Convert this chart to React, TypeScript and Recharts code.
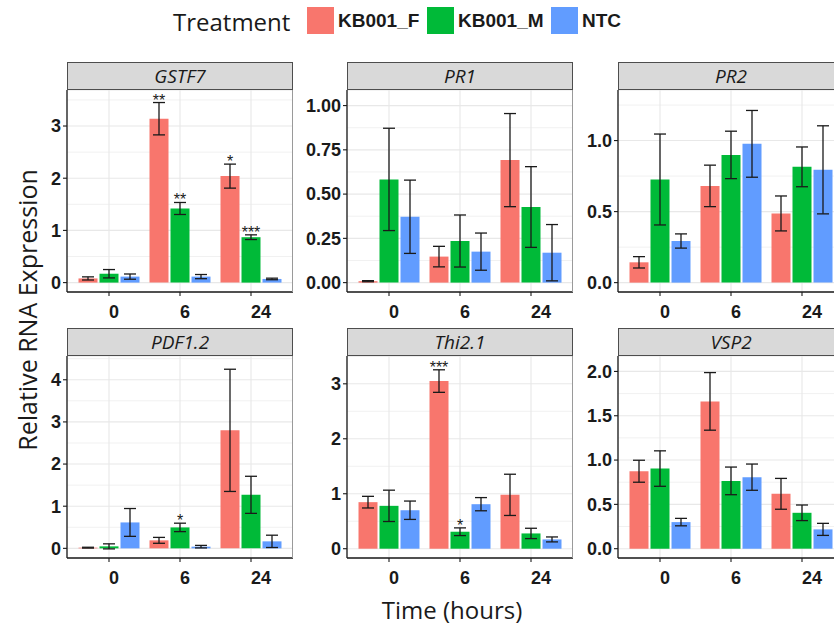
import React from 'react';
import { BarChart, Bar, XAxis, YAxis, CartesianGrid, ErrorBar, LabelList } from 'recharts';

// ---------- data ----------
const times = ['0', '6', '24'];
const seriesNames = ['KB001_F', 'KB001_M', 'NTC'];
const seriesColors = ['#F8766D', '#00BA38', '#619CFF'];

// each mean / err array: rows = series (F, M, NTC), columns = times (0, 6, 24)
const gstf7Mean = [[0.08, 3.14, 2.04], [0.17, 1.42, 0.87], [0.115, 0.115, 0.07]];
const gstf7Err = [[0.03, 0.31, 0.23], [0.08, 0.115, 0.045], [0.05, 0.04, 0.015]];
const gstf7Sig = [['', '**', '*'], ['', '**', '***'], ['', '', '']];
const gstf7Ticks = [0, 1, 2, 3];
const gstf7Minor = [0.5, 1.5, 2.5, 3.5];
const gstf7Domain = [-0.18, 3.69];

const pr1Mean = [[0.008, 0.147, 0.692], [0.583, 0.235, 0.427], [0.372, 0.175, 0.169]];
const pr1Err = [[0.003, 0.058, 0.263], [0.289, 0.147, 0.228], [0.207, 0.105, 0.159]];
const pr1Sig = [['', '', ''], ['', '', ''], ['', '', '']];
const pr1Ticks = [0, 0.25, 0.5, 0.75, 1];
const pr1Minor = [0.125, 0.375, 0.625, 0.875];
const pr1Domain = [-0.053, 1.088];

const pr2Mean = [[0.143, 0.681, 0.487], [0.726, 0.899, 0.815], [0.293, 0.977, 0.794]];
const pr2Err = [[0.04, 0.146, 0.123], [0.32, 0.167, 0.14], [0.05, 0.235, 0.31]];
const pr2Sig = [['', '', ''], ['', '', ''], ['', '', '']];
const pr2Ticks = [0, 0.5, 1];
const pr2Minor = [0.25, 0.75, 1.25];
const pr2Domain = [-0.066, 1.356];

const pdfMean = [[0.016, 0.19, 2.8], [0.047, 0.497, 1.27], [0.615, 0.04, 0.166]];
const pdfErr = [[0.01, 0.07, 1.45], [0.06, 0.1, 0.44], [0.33, 0.03, 0.146]];
const pdfSig = [['', '', ''], ['', '*', ''], ['', '', '']];
const pdfTicks = [0, 1, 2, 3, 4];
const pdfMinor = [0.5, 1.5, 2.5, 3.5, 4.5];
const pdfDomain = [-0.229, 4.564];

const thiMean = [[0.847, 3.05, 0.98], [0.78, 0.309, 0.278], [0.7, 0.81, 0.169]];
const thiErr = [[0.106, 0.205, 0.375], [0.285, 0.07, 0.094], [0.167, 0.12, 0.045]];
const thiSig = [['', '***', ''], ['', '*', ''], ['', '', '']];
const thiTicks = [0, 1, 2, 3];
const thiMinor = [0.5, 1.5, 2.5, 3.5];
const thiDomain = [-0.169, 3.506];

const vspMean = [[0.874, 1.662, 0.619], [0.904, 0.765, 0.405], [0.3, 0.807, 0.218]];
const vspErr = [[0.124, 0.325, 0.174], [0.2, 0.156, 0.088], [0.042, 0.148, 0.068]];
const vspSig = [['', '', ''], ['', '', ''], ['', '', '']];
const vspTicks = [0, 0.5, 1, 1.5, 2];
const vspMinor = [0.25, 0.75, 1.25, 1.75];
const vspDomain = [-0.105, 2.174];

const genes = [
  { name: 'GSTF7', mean: gstf7Mean, err: gstf7Err, sig: gstf7Sig, ticks: gstf7Ticks, minor: gstf7Minor, domain: gstf7Domain, dec: 0 },
  { name: 'PR1', mean: pr1Mean, err: pr1Err, sig: pr1Sig, ticks: pr1Ticks, minor: pr1Minor, domain: pr1Domain, dec: 2 },
  { name: 'PR2', mean: pr2Mean, err: pr2Err, sig: pr2Sig, ticks: pr2Ticks, minor: pr2Minor, domain: pr2Domain, dec: 1 },
  { name: 'PDF1.2', mean: pdfMean, err: pdfErr, sig: pdfSig, ticks: pdfTicks, minor: pdfMinor, domain: pdfDomain, dec: 0 },
  { name: 'Thi2.1', mean: thiMean, err: thiErr, sig: thiSig, ticks: thiTicks, minor: thiMinor, domain: thiDomain, dec: 0 },
  { name: 'VSP2', mean: vspMean, err: vspErr, sig: vspSig, ticks: vspTicks, minor: vspMinor, domain: vspDomain, dec: 1 },
];

// ---------- layout ----------
const COL_X = [67, 347, 618];
const ROW_Y = [90, 356];
const PW = 226;
const PH = 202;
const Y_W = 60;
const X_H = 40;
const STRIP_H = 28;

const INK = '#1a1a1a';
const NUM_FONT = '"Liberation Sans", Arial, sans-serif';
const TXT_FONT = '"Open Sans", "Noto Sans", sans-serif';

const XTick = (props: any) => {
  const { x, y, payload } = props;
  return (
    <text x={x} y={y} dy="0.71em" textAnchor="start" fontSize={18} fontWeight={700} fill={INK} fontFamily={NUM_FONT}>
      {payload.value}
    </text>
  );
};

function makeSig(mean: number[], err: number[]) {
  return (p: any) => {
    const text = p.value;
    if (!text) return null;
    const vb = p.viewBox && p.viewBox.width !== undefined ? p.viewBox : p;
    const idx = p.index;
    const m = mean[idx];
    const e = err[idx];
    const pxPer = Math.abs(vb.height) / m;
    const topY = Math.min(vb.y, vb.y + vb.height) - e * pxPer;
    return (
      <text x={vb.x + vb.width / 2} y={topY + 3} textAnchor="middle" fontSize={16} fill={INK} fontFamily={NUM_FONT}>
        {text}
      </text>
    );
  };
}

function Panel({ gene, col, row }: { gene: any; col: number; row: number }) {
  const left = COL_X[col];
  const top = ROW_Y[row];
  const data = times.map((t, i) => {
    const r: any = { time: t };
    seriesNames.forEach((s, k) => {
      r[s] = gene.mean[k][i];
      r[s + '_err'] = gene.err[k][i];
      r[s + '_sig'] = gene.sig[k][i];
    });
    return r;
  });
  return (
    <div style={{ position: 'absolute', left: left - Y_W, top }}>
      <BarChart
        width={Y_W + PW}
        height={PH + X_H}
        data={data}
        margin={{ top: 0, right: 0, bottom: 0, left: 0 }}
        barGap={2}
        barSize={19}
      >
        <CartesianGrid horizontalValues={gene.minor} vertical={false} stroke="#f1f1f1" strokeWidth={1} />
        <CartesianGrid stroke="#e8e8e8" strokeWidth={1.1} />
        <XAxis
          dataKey="time"
          padding={{ left: 6.5, right: 6.5 }}
          height={X_H}
          tickSize={4}
          tickMargin={9}
          interval={0}
          axisLine={{ stroke: INK, strokeWidth: 1.3 }}
          tickLine={{ stroke: INK, strokeWidth: 1.1 }}
          tick={XTick}
        />
        <YAxis
          type="number"
          width={Y_W}
          domain={gene.domain}
          ticks={gene.ticks}
          allowDataOverflow
          interval={0}
          tickSize={4}
          tickMargin={2}
          tickFormatter={(v: number) => v.toFixed(gene.dec)}
          axisLine={{ stroke: INK, strokeWidth: 1.3 }}
          tickLine={{ stroke: INK, strokeWidth: 1.1 }}
          tick={{ fontSize: 18, fontWeight: 700, fill: INK, fontFamily: NUM_FONT }}
        />
        {seriesNames.map((s, k) => (
          <Bar key={s} dataKey={s} fill={seriesColors[k]} isAnimationActive={false}>
            <ErrorBar dataKey={s + '_err'} width={6} stroke={INK} strokeWidth={1.3} />
            <LabelList dataKey={s + '_sig'} content={makeSig(gene.mean[k], gene.err[k])} />
          </Bar>
        ))}
      </BarChart>
    </div>
  );
}

const legendX = [307, 427, 551];

export default function App() {
  return (
    <div style={{ position: 'absolute', left: 0, top: 0, width: 834, height: 626, overflow: 'hidden', background: '#fff' }}>
      {genes.map((g, i) => (
        <Panel key={g.name} gene={g} col={i % 3} row={Math.floor(i / 3)} />
      ))}
      <svg width={834} height={626} style={{ position: 'absolute', left: 0, top: 0, pointerEvents: 'none' }}>
        {genes.map((g, i) => {
          const x = COL_X[i % 3];
          const y = ROW_Y[Math.floor(i / 3)];
          return (
            <g key={g.name}>
              <line x1={x + PW - 0.5} y1={y} x2={x + PW - 0.5} y2={y + PH} stroke="#9a9a9a" strokeWidth={1} />
              <rect x={x + 0.5} y={y - STRIP_H + 0.5} width={PW - 1} height={STRIP_H - 1} fill="#d9d9d9" stroke="#4d4d4d" strokeWidth={1} />
              <text x={x + PW / 2} y={y - STRIP_H + 21} textAnchor="middle" fontSize={19} fontStyle="italic" fill={INK} fontFamily={TXT_FONT}>
                {g.name}
              </text>
            </g>
          );
        })}
        <text x={173} y={31} fontSize={24} fill={INK} fontFamily={TXT_FONT}>Treatment</text>
        {seriesNames.map((s, k) => (
          <g key={s}>
            <rect x={legendX[k]} y={7} width={27} height={27} fill={seriesColors[k]} />
            <text x={legendX[k] + 31} y={27} fontSize={19} fontWeight={700} fill={INK} fontFamily={NUM_FONT}>{s}</text>
          </g>
        ))}
        <text x={37} y={310} transform="rotate(-90, 37, 310)" textAnchor="middle" fontSize={25} fill={INK} fontFamily={TXT_FONT}>
          Relative RNA Expression
        </text>
        <text x={452} y={619} textAnchor="middle" fontSize={24} fill={INK} fontFamily={TXT_FONT}>
          Time (hours)
        </text>
      </svg>
    </div>
  );
}
